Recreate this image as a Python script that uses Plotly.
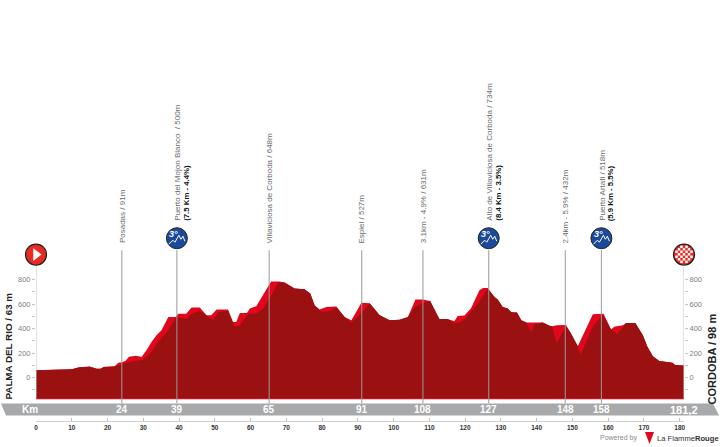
import plotly.graph_objects as go

W, H = 720, 447

# profile: km / metres
top_km = [0, 5, 10, 12, 15, 17, 18, 19, 22, 23, 24, 25, 26, 28, 29.5, 30.9, 32.3, 33.7, 35.1, 37, 39, 39.8, 42, 43.5,
          45.8, 47.7, 49, 50.5, 53.7, 55.1, 56, 57, 59, 59.8, 61.6, 65.4, 65.8, 68, 69.5, 72.3, 75.1, 76.7, 77.9,
          79.3, 81.2, 84, 86.3, 88.2, 91, 93.3, 96.1, 98.9, 101.7, 104, 106.1, 108.2, 110.2, 112.8, 115.1, 117,
          117.9, 119.8, 121.6, 124, 125, 126.3, 128.2, 129.1, 130.5, 131.9, 132.9, 134.5, 135.7, 137.1, 141.7,
          143.6, 144.3, 145.6, 148.2, 149.6, 151.5, 155.7, 158.7, 160.8, 161.7, 164.1, 165, 167.6, 169.7, 171,
          172.5, 174.3, 178, 178.7, 181.2]
top_elev = [60, 62, 68, 85, 90, 72, 72, 88, 92, 122, 125, 135, 170, 178, 168, 223, 291, 345, 386, 495, 495, 522, 522,
            571, 571, 509, 509, 555, 555, 454, 454, 528, 528, 563, 582, 767, 784, 784, 775, 726, 721, 686, 590,
            555, 577, 580, 495, 468, 610, 607, 509, 468, 473, 495, 637, 637, 626, 479, 479, 460,
            503, 506, 563, 713, 732, 732, 658, 637, 577, 563, 533, 531, 468, 449, 449,
            424, 419, 427, 430, 359, 256, 517, 520, 392, 414, 427, 446, 446, 346, 250,
            174, 136, 122, 103, 98]

dark_km = [0, 5, 10, 12, 15, 17, 18, 19, 22, 23, 24.4, 27.2, 29.5, 30.9, 32.3, 33.7, 35.6, 37, 38.9, 39.8, 42, 43.5,
           45.8, 47.7, 49.6, 51, 53.7, 55.5, 57, 59.3, 61.6, 63.5, 65.4, 67.7, 69.5, 72.3, 75.1, 76.7, 77.9,
           79.8, 82.1, 84, 86.3, 88.2, 91, 93.3, 96.1, 98.9, 101.7, 104, 105.8, 108.2, 110.2, 112.8, 115.1, 117,
           118.9, 120.3, 122, 124, 126.3, 128.2, 129.1, 130.5, 131.9, 132.9, 134.5, 135.7, 137.1, 138.5, 139.4,
           141.7, 143.6, 144.3, 145.6, 148.2, 149.6, 151.5, 152.2, 155.7, 158.5, 160.8, 162.6, 164.1, 165, 167.6,
           169.7, 171, 172.5, 174.3, 178, 178.7, 181.2]
dark_elev = [60, 62, 68, 82, 88, 72, 72, 85, 90, 100, 114, 135, 141, 168, 209, 277, 345, 386, 481, 490, 481, 522,
             544, 509, 468, 536, 544, 414, 427, 522, 522, 563, 650, 775, 775, 726, 721, 686, 590,
             536, 544, 571, 495, 449, 528, 607, 509, 468, 473, 495, 570, 610, 626, 479, 479, 441,
             454, 490, 550, 618, 727, 658, 637, 577, 563, 533, 531, 468, 449, 373, 435,
             449, 424, 419, 283, 419, 359, 256, 182, 414, 514, 392, 354, 408, 446, 446,
             346, 250, 174, 136, 122, 103, 98]

km_ticks = list(range(0, 181, 10))
elev_ticks = [-100, 0, 100, 200, 300, 400, 500, 600, 700, 800]
elev_labels = ["", "0", "", "200", "", "400", "", "600", "", "800"]

stem_km = [24, 39.4, 65.2, 91.1, 108.2, 126.6, 148, 158.1]
stem_band_labels = ["24", "39", "65", "91", "108", "127", "148", "158"]
stem_labels = ["Posadas / 91m", "Puerto del Mojon Blanco  / 500m", "Villaviciosa de Corboda / 648m", "Espiel / 527m",
               "3.1km - 4.9% / 631m", "Alto de Villaviciosa de Corboda / 734m", "2.4km - 5.9% / 432m",
               "Puerto Artafi / 518m"]

climb_km = [39.4, 126.6, 158.1]
climb_details = ["(7.5 Km - 4.4%)", "(8.4 Km - 3.5%)", "(5.9 Km - 5.5%)"]

FLOOR = -171
BAND_TOP = -211
STEM_TOP = 1039
POLE_TOP = 917
TEXT_BOTTOM = 1088
CLIMB_TEXT_BOTTOM = 1270
BADGE_ELEV = 1137
END_BADGE_ELEV = 1004

FINISH_KM = 181.2
BRIGHT = "#e2061c"
DARK = "#9b1010"
GREY_TEXT = "#6a6b6d"
NARROW = "Liberation Sans Narrow, Liberation Sans, sans-serif"


def px(x):
    return x / W


def py(y):
    return (H - y) / H


fig = go.Figure()

# two filled layers, each closed against the floor line
for km, elev, color in [(top_km, top_elev, BRIGHT), (dark_km, dark_elev, DARK)]:
    fig.add_trace(go.Scatter(x=[0, FINISH_KM], y=[FLOOR, FLOOR], mode="lines", line=dict(width=0)))
    fig.add_trace(
        go.Scatter(x=km, y=elev, mode="lines", fill="tonexty", fillcolor=color, line=dict(width=0, color=color))
    )
fig.add_trace(go.Scatter(x=[0, FINISH_KM], y=[FLOOR, FLOOR], mode="lines", line=dict(width=1.2, color="#c8101f")))

for km in stem_km:
    fig.add_trace(
        go.Scatter(x=[km, km], y=[BAND_TOP, STEM_TOP], mode="lines", line=dict(width=1, color="#9a9a9a"))
    )

fig.add_trace(go.Scatter(x=[0, 0], y=[FLOOR, POLE_TOP], mode="lines", line=dict(width=1, color="#c4c4c4")))
fig.add_trace(
    go.Scatter(x=[FINISH_KM, FINISH_KM], y=[FLOOR, POLE_TOP], mode="lines", yaxis="y2",
               line=dict(width=1, color="#c4c4c4"))
)

fig.add_trace(
    go.Scatter(
        x=climb_km, y=[BADGE_ELEV] * len(climb_km), mode="markers", cliponaxis=False,
        marker=dict(size=21, color="#1b4a9a", line=dict(width=1, color="#222222")),
    )
)
fig.add_trace(
    go.Scatter(
        x=[0, FINISH_KM], y=[END_BADGE_ELEV, END_BADGE_ELEV], mode="markers", cliponaxis=False,
        marker=dict(size=21, color="#ea2a20", line=dict(width=1.2, color="#222222")),
    )
)
fig.add_trace(
    go.Scatter(
        x=[0], y=[END_BADGE_ELEV], mode="markers", cliponaxis=False,
        marker=dict(size=11, color="white", symbol="triangle-right"),
    )
)

shapes = [
    # grey km band
    dict(type="path", xref="paper", yref="paper", line_width=0, fillcolor="#a7a9ab", layer="below",
         path=f"M {px(1)} {py(403.5)} L {px(713)} {py(403.5)} L {px(719)} {py(415.5)} L {px(6)} {py(415.5)} Z"),
    # logo
    dict(type="path", xref="paper", yref="paper", line_width=0, fillcolor="#e2061c",
         path=f"M {px(645)} {py(432)} L {px(654)} {py(432)} L {px(649.5)} {py(444)} Z"),
]

# mountain zigzag on the climb badges
for km in climb_km:
    shapes.append(
        dict(type="path", xsizemode="pixel", ysizemode="pixel", xanchor=km, yanchor=BADGE_ELEV, xref="x", yref="y",
             line=dict(color="white", width=1),
             path="M -8 -6 L -4 -2 L -2 -4 L 2 3 L 4 -1 L 6 2 L 8 -3")
    )

# finish flag checks
for row in range(-3, 4):
    for col in range(-3, 4):
        if (row + col) % 2 == 0 and row * row + col * col <= 10:
            shapes.append(
                dict(type="rect", xsizemode="pixel", ysizemode="pixel", xref="paper", yref="paper",
                     xanchor=px(684), yanchor=py(254.3), x0=col * 2.5 - 1.25, x1=col * 2.5 + 1.25,
                     y0=row * 2.5 - 1.25, y1=row * 2.5 + 1.25, fillcolor="white", line_width=0)
            )

annotations = []
for km, label in zip(stem_km, stem_labels):
    bottom = CLIMB_TEXT_BOTTOM if km in climb_km else TEXT_BOTTOM
    annotations.append(
        dict(x=km, y=bottom, xref="x", yref="y", text=label, textangle=-90, showarrow=False, xanchor="center",
             yanchor="bottom", borderpad=0, xshift=1 if km in climb_km else 0,
             font=dict(family="Liberation Sans", size=8, color=GREY_TEXT))
    )
for km, label in zip(climb_km, climb_details):
    annotations.append(
        dict(x=km, y=CLIMB_TEXT_BOTTOM, xref="x", yref="y", text=label, textangle=-90, showarrow=False,
             xanchor="center", yanchor="bottom", borderpad=0, xshift=10,
             font=dict(family=NARROW, size=7.8, color="#111111", weight="bold"))
    )
    annotations.append(
        dict(x=km, y=BADGE_ELEV, xref="x", yref="y", text="<i><b>3°</b></i>", showarrow=False, xshift=-3, yshift=4,
             font=dict(family="Liberation Sans", size=9, color="white"))
    )
for km, label in zip(stem_km, stem_band_labels):
    annotations.append(
        dict(x=km, y=py(409.5), xref="x", yref="paper", text=label, showarrow=False, xanchor="center",
             yanchor="middle", font=dict(family=NARROW, size=10, color="white", weight="bold"))
    )
annotations += [
    dict(x=px(30), y=py(409.5), xref="paper", yref="paper", text="Km", showarrow=False, xanchor="center",
         yanchor="middle", font=dict(family=NARROW, size=10, color="white", weight="bold")),
    dict(x=px(684), y=py(409.5), xref="paper", yref="paper", text="181,2", showarrow=False, xanchor="center",
         yanchor="middle", font=dict(family=NARROW, size=11, color="white", weight="bold")),
    dict(x=px(7.5), y=py(346), xref="paper", yref="paper", text="PALMA DEL RIO / 63 m", textangle=-90,
         showarrow=False, xanchor="center", yanchor="middle",
         font=dict(family=NARROW, size=9.8, color="#222222", weight="bold")),
    dict(x=px(712), y=py(359.5), xref="paper", yref="paper", text="CORDOBA / 98 m", textangle=-90,
         showarrow=False, xanchor="center", yanchor="middle",
         font=dict(family=NARROW, size=11, color="#222222", weight="bold")),
    dict(x=px(639), y=py(438), xref="paper", yref="paper", text="Powered by", showarrow=False, xanchor="right",
         yanchor="middle", font=dict(family="Liberation Sans", size=7, color="#8a8a8a")),
    dict(x=px(655), y=py(438), xref="paper", yref="paper", text="La Flamme<b>Rouge</b>", showarrow=False,
         xanchor="left", yanchor="middle", font=dict(family="Liberation Sans", size=7.6, color="#333333")),
]

y_axis = dict(
    domain=[py(403.5), 1], range=[BAND_TOP, 3080], tickmode="array", tickvals=elev_ticks, ticktext=elev_labels,
    ticks="outside", ticklen=3, tickcolor="#c4c4c4", tickwidth=1, showgrid=False, zeroline=False, showline=False,
    automargin=False, tickfont=dict(family="Liberation Sans", size=7.5, color="#808080"),
)

fig.update_layout(
    width=W,
    height=H,
    margin=dict(l=0, r=0, t=0, b=0),
    paper_bgcolor="white",
    plot_bgcolor="white",
    showlegend=False,
    hovermode=False,
    xaxis=dict(
        domain=[px(36), px(684)], range=[0, FINISH_KM], anchor="free", position=py(420.7), tickmode="array",
        tickvals=km_ticks, ticks="inside", ticklen=3, tickcolor="#bdbdbd", tickwidth=1, showline=True,
        linecolor="#cfcfcf", linewidth=1, showgrid=False, zeroline=False, automargin=False,
        tickfont=dict(family=NARROW, size=6.5, color="#333333", weight="bold"),
    ),
    yaxis=y_axis,
    yaxis2=dict(y_axis, overlaying="y", side="right", anchor="x"),
    shapes=shapes,
    annotations=annotations,
)

# the page's default body margin would push the 720x447 figure out of the window
fig.write_html("out.html", config={"displayModeBar": False}, post_script="document.body.style.margin = '0';")
